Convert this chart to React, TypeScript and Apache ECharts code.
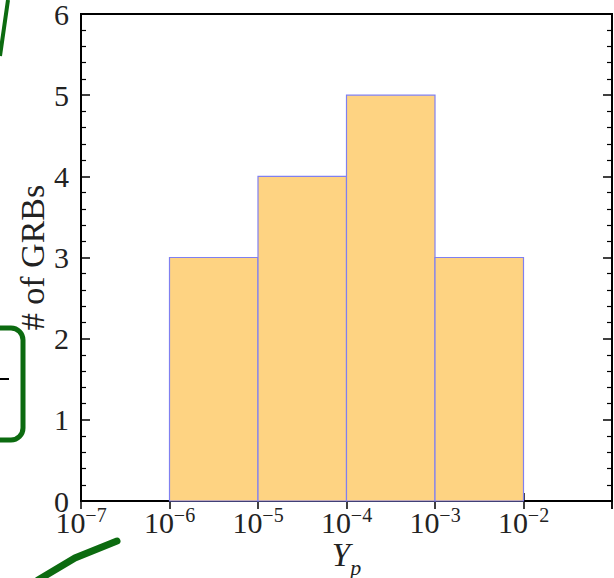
import React, { useEffect, useRef } from "react";
import * as echarts from "echarts";

const binLow = [1e-6, 1e-5, 1e-4, 1e-3];
const binHigh = [1e-5, 1e-4, 1e-3, 1e-2];
const counts = [3, 4, 5, 3];
const yTicks = [0, 1, 2, 3, 4, 5, 6];

const FONT = "'Liberation Serif', 'DejaVu Serif', serif";

export default function App() {
  const ref = useRef<HTMLDivElement>(null);
  useEffect(() => {
    if (!ref.current) return;
    const chart = echarts.init(ref.current, null, { renderer: "svg" });
    const data = binLow.map((lo, i) => [lo, binHigh[i], counts[i]]);
    const xLabelFmt = (v: number) => {
      const e = Math.round(Math.log10(v));
      if (e === -1) return "";
      return `{a|10}{b|${e < 0 ? "\u2212" : ""}${Math.abs(e)}}`;
    };
    const green = "#0c6b10";
    chart.setOption({
      animation: false,
      grid: {
        left: 81,
        right: 2,
        top: 14,
        bottom: 77,
        outerBoundsMode: "none",
        containLabel: false,
        show: true,
        borderColor: "#000",
        borderWidth: 2,
        backgroundColor: "transparent",
      },
      xAxis: [
        {
          type: "log",
          logBase: 10,
          min: 1e-7,
          max: 1e-1,
          splitNumber: 6,
          position: "bottom",
          axisLine: { lineStyle: { color: "#000", width: 2 } },
          axisTick: { inside: true, length: 8, lineStyle: { color: "#000", width: 1.5 } },
          minorTick: { show: false },
          splitLine: { show: false },
          axisLabel: {
            margin: 4,
            formatter: xLabelFmt,
            rich: {
              a: { fontFamily: FONT, fontSize: 30, color: "#222", lineHeight: 32, verticalAlign: "bottom" },
              b: { fontFamily: FONT, fontSize: 20, color: "#222", lineHeight: 22, verticalAlign: "top" },
            },
          },
          name: "{i|Y}{s|p}",
          nameLocation: "middle",
          nameGap: 37,
          nameMoveOverlap: false,
          nameTextStyle: {
            rich: {
              i: { fontFamily: FONT, fontStyle: "italic", fontSize: 33, color: "#222", lineHeight: 40, verticalAlign: "top" },
              s: { fontFamily: FONT, fontStyle: "italic", fontSize: 22, color: "#222", lineHeight: 22, verticalAlign: "bottom" },
            },
          },
        },
        {
          type: "log",
          logBase: 10,
          min: 1e-7,
          max: 1e-1,
          splitNumber: 6,
          position: "top",
          axisLine: { lineStyle: { color: "#000", width: 2 } },
          axisTick: { inside: true, length: 8, lineStyle: { color: "#000", width: 1.5 } },
          axisLabel: { show: false },
          splitLine: { show: false },
        },
      ],
      yAxis: [
        {
          type: "value",
          min: yTicks[0],
          max: yTicks[yTicks.length - 1],
          interval: 1,
          position: "left",
          axisLine: { show: true, lineStyle: { color: "#000", width: 2 } },
          axisTick: { inside: true, length: 9, lineStyle: { color: "#000", width: 1.5 } },
          minorTick: { show: true, splitNumber: 5, length: 5, lineStyle: { color: "#000", width: 1.2 } },
          splitLine: { show: false },
          axisLabel: { margin: 12, fontFamily: FONT, fontSize: 30, color: "#222" },
          name: "# of GRBs",
          nameLocation: "middle",
          nameGap: 32,
          nameMoveOverlap: false,
          nameTextStyle: { fontFamily: FONT, fontSize: 34, color: "#222" },
        },
        {
          type: "value",
          min: yTicks[0],
          max: yTicks[yTicks.length - 1],
          interval: 1,
          position: "right",
          axisLine: { show: true, lineStyle: { color: "#000", width: 2 } },
          axisTick: { inside: true, length: 9, lineStyle: { color: "#000", width: 1.5 } },
          minorTick: { show: true, splitNumber: 5, length: 5, lineStyle: { color: "#000", width: 1.2 } },
          splitLine: { show: false },
          axisLabel: { show: false },
        },
      ],
      series: [
        {
          type: "custom",
          xAxisIndex: 0,
          yAxisIndex: 0,
          data,
          encode: { x: [0, 1], y: 2 },
          renderItem: (params: any, api: any) => {
            const p0 = api.coord([api.value(0), api.value(2)]);
            const p1 = api.coord([api.value(1), 0]);
            return {
              type: "rect",
              shape: { x: p0[0], y: p0[1], width: p1[0] - p0[0], height: p1[1] - p0[1] },
              style: { fill: "#fed382", stroke: "#8080f0", lineWidth: 1.2 },
            };
          },
          z: 1,
        },
      ],
      graphic: [
        {
          type: "polyline",
          shape: { points: [[0, 56], [4, 28], [8, 0]] },
          style: { stroke: green, lineWidth: 4, fill: "none" },
          silent: true,
        },
        {
          type: "rect",
          shape: { x: -30, y: 328, width: 53, height: 112, r: 12 },
          style: { stroke: green, lineWidth: 5, fill: "none" },
          silent: true,
        },
        {
          type: "line",
          shape: { x1: 0, y1: 379, x2: 9, y2: 379 },
          style: { stroke: "#000", lineWidth: 2 },
          silent: true,
        },
        {
          type: "polyline",
          shape: { points: [[38, 580], [75, 558], [117, 541]] },
          style: { stroke: green, lineWidth: 7, fill: "none", lineCap: "round" },
          silent: true,
        },
      ],
    });
    return () => chart.dispose();
  }, []);
  return <div ref={ref} style={{ width: 614, height: 578, position: "absolute", left: 0, top: 0 }} />;
}
